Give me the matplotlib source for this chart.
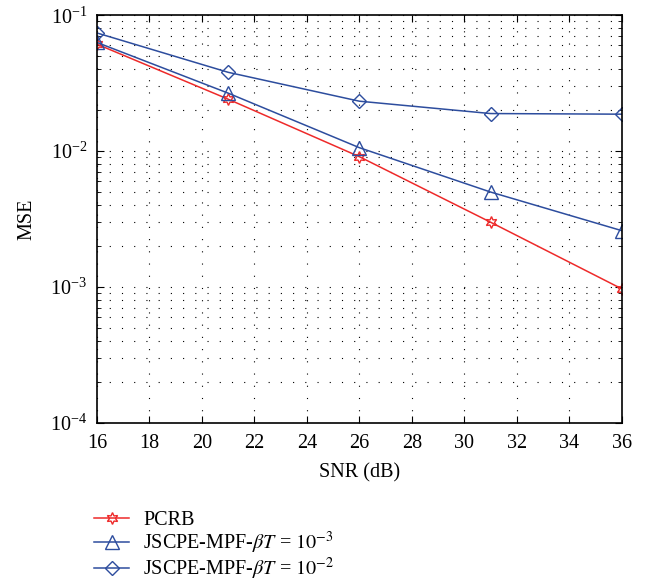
import matplotlib
matplotlib.use("Agg")
import matplotlib.pyplot as plt
import numpy as np
from matplotlib.ticker import LogLocator, NullFormatter

snr = [16, 21, 26, 31, 36]
pcrb = [0.0612, 0.0241, 0.0091, 0.0030, 0.00097]
mpf_1e3 = [0.063, 0.0267, 0.0106, 0.0050, 0.0026]
mpf_1e2 = [0.074, 0.038, 0.0233, 0.0189, 0.0187]
labels = ["PCRB", r"JSCPE-MPF-$\beta T$ = $10^{-3}$", r"JSCPE-MPF-$\beta T$ = $10^{-2}$"]

plt.rcParams['font.family'] = ['Liberation Serif', 'DejaVu Serif']
plt.rcParams['mathtext.fontset'] = 'stix'

red = '#ee2a2a'
blue = '#2d4d9e'
fs = 14.5

fig = plt.figure(figsize=(6.49, 5.85), dpi=100)
ax = fig.add_axes([0.1495, 0.277, 0.8085, 0.697])

ax.semilogy(snr, pcrb, color=red, lw=1.1, marker=(6, 1, 0), ms=8.5, mfc='none', mec=red, mew=1.0, label=labels[0])
ax.semilogy(snr, mpf_1e3, color=blue, lw=1.1, marker='^', ms=9.5, mfc='none', mec=blue, mew=1.0, label=labels[1])
ax.semilogy(snr, mpf_1e2, color=blue, lw=1.1, marker='D', ms=7.5, mfc='none', mec=blue, mew=1.0, label=labels[2])

ax.set_xlim(16, 36)
ax.set_ylim(1e-4, 1e-1)
ax.set_xticks(np.arange(16, 37, 2))
ax.yaxis.set_major_locator(LogLocator(base=10, numticks=10))
ax.yaxis.set_minor_locator(LogLocator(base=10, subs=np.arange(2, 10), numticks=20))
ax.yaxis.set_minor_formatter(NullFormatter())
ax.tick_params(which='both', direction='in', top=True, right=True, labelsize=fs)
ax.tick_params(axis='x', which='major', length=5, pad=8)
ax.tick_params(axis='y', which='major', length=5, pad=7)
ax.tick_params(which='minor', length=3)
ax.grid(True, which='major', ls=(0, (1, 10)), color='black', lw=0.8)
ax.grid(True, which='minor', axis='y', ls=(0, (1, 10)), color='black', lw=0.8)
for s in ax.spines.values():
    s.set_linewidth(1.2)

ax.set_xlabel('SNR (dB)', fontsize=fs, labelpad=7)
ax.set_ylabel('MSE', fontsize=fs, labelpad=10)

fig.legend(loc='upper left', bbox_to_anchor=(0.145, 0.127), frameon=False, fontsize=fs,
           handlelength=1.75, labelspacing=0.0, handletextpad=0.7, borderaxespad=0,
           borderpad=0)

fig.savefig('out.png', dpi=100)
